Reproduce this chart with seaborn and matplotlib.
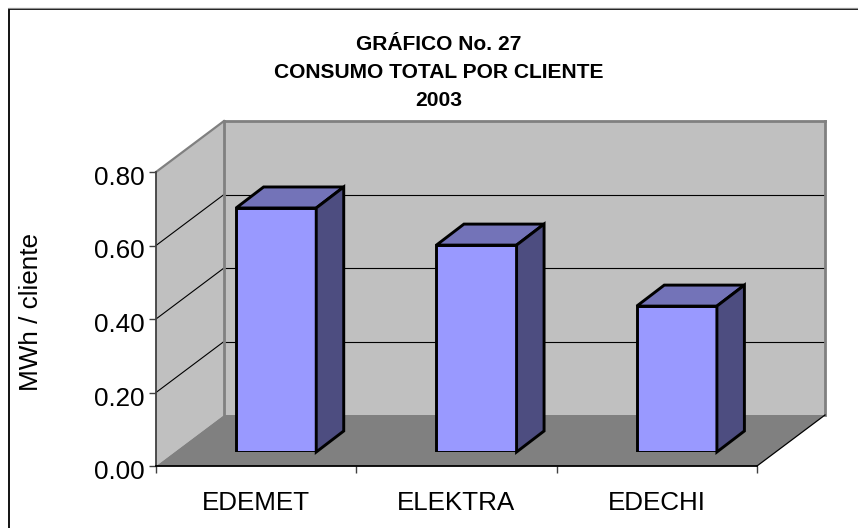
import matplotlib
matplotlib.use("Agg")
import matplotlib.pyplot as plt
import seaborn as sns
from matplotlib.patches import Polygon, Rectangle
from matplotlib.ticker import FixedLocator, NullFormatter
from matplotlib.transforms import Affine2D

# data
companies = ["EDEMET", "ELEKTRA", "EDECHI"]
consumo = [0.664, 0.563, 0.397]
y_ticks = [0.0, 0.2, 0.4, 0.6, 0.8]
title_lines = ["GRÁFICO No. 27", "CONSUMO TOTAL POR CLIENTE", "2003"]

W, H = 858, 528
FONT = "Liberation Sans"

sns.set_style("white")
plt.rcParams["font.family"] = [FONT, "DejaVu Sans"]
plt.rcParams["text.color"] = "black"


def px_axes(fig, left, top, right, bottom):
    # axes position given in image pixels
    return fig.add_axes([left / W, 1 - bottom / H, (right - left) / W, (bottom - top) / H])


fig = plt.figure(figsize=(W / 100, H / 100), dpi=100)

#outer frame, runs off the right and bottom of the image
fig.add_artist(Rectangle((8.5 / W, -0.1), 1.2, 1.1 - 9 / H, transform=fig.transFigure,
                         fill=False, edgecolor="black", linewidth=1.3))
fig.add_artist(plt.Line2D([8 / W, 1], [1 - 8 / H, 1 - 8 / H], transform=fig.transFigure,
                          color="#909090", linewidth=0.9))

# front plane of the chart: ticks and labels live here
ax = px_axes(fig, 156, 172, 757, 466)
ax.set_xlim(-0.5, 2.5)
ax.set_ylim(0, 0.8)
ax.patch.set_alpha(0)

# walls are drawn in display pixels, pushed back from the front plane
DEPTH_X, DEPTH_Y = 68, 51


def pt(x, y, shift_x=0, shift_y=0):
    a, b = ax.transData.transform((x, y))
    return (a + shift_x, b + shift_y)


def poly(target, pts, **kw):
    target.add_patch(Polygon(pts, closed=True, transform=None, clip_on=False, **kw))


def line(target, p1, p2, **kw):
    target.plot([p1[0], p2[0]], [p1[1], p2[1]], transform=None, clip_on=False,
                solid_capstyle="projecting", **kw)


WALL = "#C0C0C0"
FLOOR = "#808080"
poly(ax, [pt(-0.5, 0, DEPTH_X, DEPTH_Y), pt(2.5, 0, DEPTH_X, DEPTH_Y),
          pt(2.5, 0.8, DEPTH_X, DEPTH_Y), pt(-0.5, 0.8, DEPTH_X, DEPTH_Y)],
     facecolor=WALL, edgecolor="none", zorder=1)
poly(ax, [pt(-0.5, 0), pt(-0.5, 0, DEPTH_X, DEPTH_Y), pt(-0.5, 0.8, DEPTH_X, DEPTH_Y), pt(-0.5, 0.8)],
     facecolor=WALL, edgecolor="none", zorder=1)
poly(ax, [pt(-0.5, 0), pt(2.5, 0), pt(2.5, 0, DEPTH_X, DEPTH_Y), pt(-0.5, 0, DEPTH_X, DEPTH_Y)],
     facecolor=FLOOR, edgecolor="none", zorder=1.2)

# gridlines on the side wall and back wall
for v in y_ticks[1:-1]:
    line(ax, pt(-0.5, v), pt(-0.5, v, DEPTH_X, DEPTH_Y), color="black", linewidth=0.8, zorder=1.1)
    line(ax, pt(-0.5, v, DEPTH_X, DEPTH_Y), pt(2.5, v, DEPTH_X, DEPTH_Y), color="black", linewidth=0.8, zorder=1.1)

# grey wall outline
line(ax, pt(-0.5, 0.8), pt(-0.5, 0.8, DEPTH_X, DEPTH_Y), color=FLOOR, linewidth=1.6, zorder=1.3)
line(ax, pt(-0.5, 0.8, DEPTH_X, DEPTH_Y), pt(2.5, 0.8, DEPTH_X, DEPTH_Y), color=FLOOR, linewidth=2, zorder=1.3)
line(ax, pt(-0.5, 0, DEPTH_X, DEPTH_Y), pt(-0.5, 0.8, DEPTH_X, DEPTH_Y), color=FLOOR, linewidth=2, zorder=1.3)
line(ax, pt(2.5, 0, DEPTH_X, DEPTH_Y), pt(2.5, 0.8, DEPTH_X, DEPTH_Y), color=FLOOR, linewidth=2, zorder=1.3)
line(ax, pt(2.5, 0), pt(2.5, 0, DEPTH_X, DEPTH_Y), color="black", linewidth=0.9, zorder=1.3)

sns.despine(ax=ax, top=True, right=True)
ax.spines["left"].set_color("#404040")
ax.spines["left"].set_linewidth(1.3)
ax.spines["bottom"].set_color("black")
ax.spines["bottom"].set_linewidth(1.3)
ax.spines["left"].set_zorder(3)
ax.spines["bottom"].set_zorder(3)

ax.set_yticks(y_ticks)
ax.set_yticklabels([f"{v:.2f}" for v in y_ticks], fontsize=18.7, color="black")
ax.tick_params(axis="y", left=True, length=5, width=1, color="#404040", pad=3.5)
ax.set_xticks(range(3))
ax.set_xticklabels(companies, fontsize=18.7, color="black")
ax.tick_params(axis="x", which="major", bottom=False, pad=14.5)
ax.xaxis.set_minor_locator(FixedLocator([-0.5, 0.5, 1.5, 2.5]))
ax.xaxis.set_minor_formatter(NullFormatter())
ax.tick_params(axis="x", which="minor", bottom=True, length=5, width=1, color="#404040")
# y labels sit a little under their ticks in the original
for lab in ax.get_yticklabels():
    lab.set_transform(lab.get_transform() + Affine2D().translate(0, -3.5))
fig.text(31 / W, 1 - 312 / H, "MWh / cliente", rotation=90, fontsize=18.8, ha="center", va="center")

# bars sit on the floor, a bit behind the front plane
ax_bar = px_axes(fig, 176, 158, 777, 452)
ax_bar.set_xlim(-0.5, 2.5)
ax_bar.set_ylim(0, 0.8)
sns.barplot(x=companies, y=consumo, ax=ax_bar, width=0.4, color="#9999FF", saturation=1,
            edgecolor="black", linewidth=2.1, zorder=3)
ax_bar.set_xlim(-0.5, 2.5)
ax_bar.set_ylim(0, 0.8)
ax_bar.axis("off")

BAR_DX, BAR_DY = 27.5, 21
for bar in list(ax_bar.patches):
    (x0, y0), (x1, y1) = ax_bar.transData.transform(bar.get_bbox().get_points())
    poly(ax_bar, [(x0, y1), (x1, y1), (x1 + BAR_DX, y1 + BAR_DY), (x0 + BAR_DX, y1 + BAR_DY)],
         facecolor="#7373B8", edgecolor="black", linewidth=2.1, joinstyle="miter", zorder=3)
    poly(ax_bar, [(x1, y0), (x1 + BAR_DX, y0 + BAR_DY), (x1 + BAR_DX, y1 + BAR_DY), (x1, y1)],
         facecolor="#4D4D80", edgecolor="black", linewidth=2.1, joinstyle="miter", zorder=3)

for label, y_px in zip(title_lines, [44, 73, 101]):
    fig.text(438.5 / W, 1 - y_px / H, label, fontsize=15.1, fontweight="bold", ha="center", va="center")

fig.savefig("out.png", dpi=100)
